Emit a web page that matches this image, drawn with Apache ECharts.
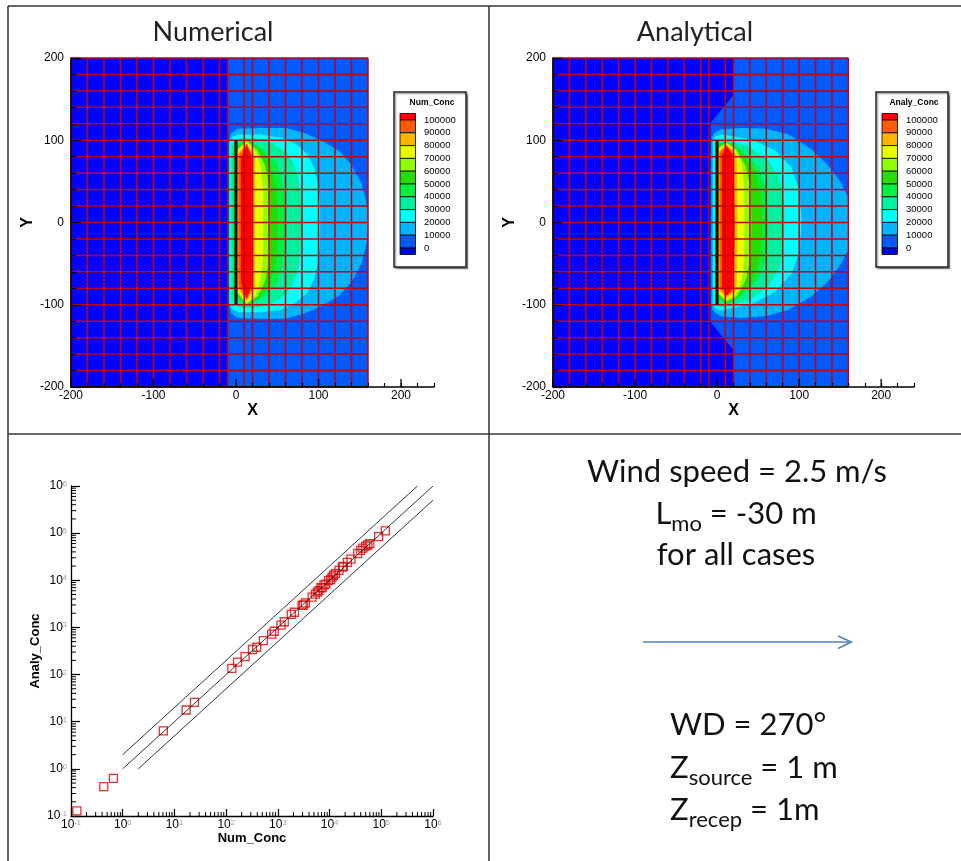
<!DOCTYPE html>
<html>
<head>
<meta charset="utf-8">
<title>Numerical vs Analytical</title>
<script src="https://cdn.jsdelivr.net/npm/echarts@6/dist/echarts.min.js"></script>
<style>
  html, body { margin: 0; padding: 0; background: #fff; }
  #chart { width: 961px; height: 861px; }
</style>
</head>
<body>
<div id="chart"></div>
<script>
// contour levels shown in the legends, and the colour of each band (lowest band first)
const contourLevels = [0, 10000, 20000, 30000, 40000, 50000, 60000, 70000, 80000, 90000, 100000];
const bandColors = ['#0000ff', '#005aff', '#00b4ff', '#00ffff', '#00f0a0', '#00f040', '#28dc00', '#8cff00', '#e6ff00', '#ffb400', '#ff5a00', '#ff0000'];

// computational mesh
const meshX = [-200, -180, -160, -140, -120, -100, -80, -60, -40, -20, -10, 10, 20, 40, 60, 80, 100, 120, 140, 160];
const meshY = [-200, -180, -160, -140, -120, -100, -80, -60, -40, -20, 0, 20, 40, 60, 80, 100, 120, 140, 160, 180, 200];
const domainBox = [[-200, 200], [160, 200], [160, -200], [-200, -200]];
const xMajorTicks = [-200, -100, 0, 100, 200];
const sourceLine = [[0, -100], [0, 100]];

// region where conc > 0
const numWetZone = [[-10, 200], [160, 200], [160, -200], [-10, -200]];
const anaWetZone = [[20, 200], [160, 200], [160, -200], [20, -200], [20, -155], [-8, -121], [-8, 121], [20, 155]];

// contour lines (x, y in m)
const numContours = [
  { level: 10000, pts: [[-8.5,100],[-6,108],[2,114],[30,115],[60,115],[82,109],[105,99],[125,87],[140,70],[152,48],[158,25],[160,10],[160,-12],[158,-27],[152,-50],[140,-72],[125,-89],[105,-101],[82,-111],[60,-117],[30,-117],[2,-116],[-6,-110],[-8.5,-100]] },
  { level: 20000, pts: [[-8,97],[-5,104],[3,107],[30,107],[55,103],[72,96],[86,84],[95,66],[100,44],[102,20],[102,-20],[100,-46],[95,-68],[86,-86],[72,-98],[55,-106],[30,-109],[3,-109],[-5,-105],[-8,-99]] },
  { level: 30000, pts: [[-6,94],[5,102],[25,102],[45,96],[60,86],[70,72],[76,52],[79,28],[80,0],[79,-28],[76,-54],[70,-74],[60,-88],[45,-98],[25,-104],[5,-104],[-6,-96]] },
  { level: 40000, pts: [[-4,92],[13,101],[34,88],[50,72],[56,52],[59,26],[59,-28],[56,-54],[50,-74],[34,-90],[13,-102],[-4,-88]] },
  { level: 50000, pts: [[-2,90],[13,100],[30,88],[43,66],[49,38],[50,0],[49,-40],[43,-68],[30,-90],[13,-100],[-2,-86]] },
  { level: 60000, pts: [[0,88],[13,99],[26,88],[35,70],[40,46],[41,0],[40,-48],[35,-72],[26,-90],[13,-99],[0,-84]] },
  { level: 70000, pts: [[1,86],[13,98],[24,86],[30,68],[33,40],[33,-42],[30,-70],[24,-88],[13,-98],[1,-82]] },
  { level: 80000, pts: [[2,84],[13,97],[23,80],[23,-78],[13,-96],[2,-80]] },
  { level: 90000, pts: [[3,81],[13,96],[21,80],[21,-78],[13,-94],[3,-77]] },
  { level: 100000, pts: [[6,78],[13,94],[19,78],[19,-76],[13,-92],[6,-74]] }
];
const anaContours = [
  { level: 10000, pts: [[-7,100],[-4.5,108],[4,113],[30,115],[60,114],[87,107],[115,89],[135,70],[150,50],[160,30],[160,-33],[150,-52],[135,-72],[115,-90],[87,-106],[60,-114],[30,-116],[4,-114],[-4.5,-108],[-7,-100]] },
  { level: 20000, pts: [[-5,100],[-2,105],[6,107],[42,101],[70,88],[90,68],[100,40],[103,3],[101,-33],[91,-62],[70,-85],[42,-99],[6,-107],[-2,-105],[-5,-100]] },
  { level: 30000, pts: [[-3,98],[6,101],[38,93],[62,76],[77,52],[82,15],[82,-15],[77,-54],[62,-78],[38,-95],[6,-103],[-3,-100]] },
  { level: 40000, pts: [[-1.5,95],[12,99],[30,88],[50,68],[60,40],[62,0],[60,-42],[50,-70],[30,-90],[12,-100],[-1.5,-91]] },
  { level: 50000, pts: [[-0.5,93],[12,98],[28,86],[45,64],[53,36],[55,0],[53,-38],[45,-66],[28,-88],[12,-98],[-0.5,-89]] },
  { level: 60000, pts: [[0.5,91],[12,97],[24,88],[35,68],[41,40],[42,0],[41,-42],[35,-70],[24,-90],[12,-96],[0.5,-87]] },
  { level: 70000, pts: [[1,89],[12,96],[22,88],[30,72],[33,45],[34,0],[33,-47],[30,-72],[22,-88],[12,-94],[1,-85]] },
  { level: 80000, pts: [[2,87],[12,95],[24,82],[25,0],[24,-82],[12,-92],[2,-83]] },
  { level: 90000, pts: [[3,85],[12,94],[20,84],[22,0],[20,-82],[12,-90],[3,-80]] },
  { level: 100000, pts: [[6,82],[12,92],[19,82],[20,0],[19,-80],[12,-88],[6,-78]] }
];

// scatter: numerical vs analytical concentration
const numConc = [0.13, 0.43, 0.66, 6.1, 16.8, 24.4, 129, 166, 232, 323, 390, 525, 760, 850, 1150, 1330, 1820, 2100, 2950, 3100, 3400, 4600, 5300, 5800, 6200, 6800, 7200, 7800, 8400, 9600, 10500, 11200, 12000, 13000, 15200, 17700, 18500, 22000, 26000, 35000, 40000, 44000, 50000, 55000, 60000, 89000, 120000];
const analyConc = [0.128, 0.42, 0.63, 6.4, 17.7, 25.8, 136, 183, 240, 340, 380, 525, 720, 830, 1120, 1320, 1900, 2100, 2950, 3000, 3300, 4400, 5100, 5600, 6000, 6900, 7000, 8000, 8300, 9800, 10400, 11700, 12800, 13800, 16200, 19000, 19800, 24000, 28000, 37000, 43000, 48000, 53000, 56000, 60000, 84000, 112000];
const factorTwoUpper = [[1, 2], [5e5, 1e6]];
const oneToOne = [[1, 1], [1e6, 1e6]];
const factorTwoLower = [[2, 1], [1e6, 5e5]];
const decadeTicks = [0.1, 1, 10, 100, 1e3, 1e4, 1e5, 1e6];
const minorMultipliers = [2, 3, 4, 5, 6, 7, 8, 9];

const FONT = '"Liberation Sans", Arial, sans-serif';
const chart = echarts.init(document.getElementById('chart'));

function fieldSeries(idx, zone, contours) {
  const polys = [{ color: bandColors[0], pts: domainBox }, { color: bandColors[1], pts: zone }]
    .concat(contours.map(c => ({ color: bandColors[c.level / 10000 + 1], pts: c.pts })));
  return {
    type: 'custom', xAxisIndex: idx, yAxisIndex: idx, silent: true, clip: true, z: 1,
    data: polys.map((p, i) => [0, 0, i]),
    renderItem: (params, api) => {
      const p = polys[params.dataIndex];
      return { type: 'polygon', shape: { points: p.pts.map(pt => api.coord(pt)) }, style: { fill: p.color } };
    }
  };
}

function meshSeries(idx) {
  const x0 = meshX[0], x1 = meshX[meshX.length - 1], y0 = meshY[0], y1 = meshY[meshY.length - 1];
  const segs = meshX.map(x => [x, y0, x, y1]).concat(meshY.map(y => [x0, y, x1, y]));
  return {
    type: 'custom', xAxisIndex: idx, yAxisIndex: idx, silent: true, clip: false, z: 2,
    data: segs,
    renderItem: (params, api) => {
      const a = api.coord([api.value(0), api.value(1)]);
      const b = api.coord([api.value(2), api.value(3)]);
      return { type: 'line', shape: { x1: a[0], y1: a[1], x2: b[0], y2: b[1] }, style: { stroke: '#c80000', lineWidth: 1.5 } };
    }
  };
}

function sourceSeries(idx) {
  return {
    type: 'line', xAxisIndex: idx, yAxisIndex: idx, data: sourceLine, symbol: 'none', silent: true, z: 3,
    lineStyle: { color: '#000', width: 3 }
  };
}

function majorTickSeries(idx) {
  return {
    type: 'custom', xAxisIndex: idx, yAxisIndex: idx, silent: true, clip: false, z: 4,
    data: xMajorTicks.map(v => [v, meshY[0]]),
    renderItem: (params, api) => {
      const p = api.coord([api.value(0), api.value(1)]);
      return { type: 'line', shape: { x1: p[0], y1: p[1], x2: p[0], y2: p[1] - 8 }, style: { stroke: '#000', lineWidth: 1.3 } };
    }
  };
}

function fieldXAxis(idx) {
  return {
    gridIndex: idx, type: 'value', min: -200, max: 240, interval: 20, z: 10,
    axisLine: { show: true, onZero: false, lineStyle: { color: '#000', width: 1.5 } },
    axisTick: { show: true, inside: true, length: 4, lineStyle: { color: '#000', width: 1.2 } },
    axisLabel: { interval: 0, margin: 3, color: '#000', fontSize: 12, fontFamily: FONT,
      formatter: v => (xMajorTicks.indexOf(v) >= 0 ? String(v) : '') },
    splitLine: { show: false },
    name: 'X', nameLocation: 'middle', nameGap: 16,
    nameTextStyle: { color: '#000', fontSize: 16, fontWeight: 'bold', fontFamily: FONT }
  };
}

function fieldYAxis(idx) {
  return {
    gridIndex: idx, type: 'value', min: -200, max: 200, interval: 100, z: 10,
    axisLine: { show: true, onZero: false, lineStyle: { color: '#000', width: 1.5 } },
    axisTick: { show: true, inside: true, length: 10, lineStyle: { color: '#000', width: 1.3 } },
    minorTick: { show: true, splitNumber: 5, length: 5, lineStyle: { color: '#000', width: 1.2 } },
    axisLabel: { margin: 7, color: '#000', fontSize: 12, fontFamily: FONT },
    splitLine: { show: false }, minorSplitLine: { show: false },
    name: 'Y', nameLocation: 'middle', nameGap: 29,
    nameTextStyle: { color: '#000', fontSize: 16, fontWeight: 'bold', fontFamily: FONT }
  };
}

const logRich = {
  b: { fontSize: 12, fontFamily: FONT, color: '#000', verticalAlign: 'middle' },
  s: { fontSize: 7.5, fontFamily: FONT, color: '#999', verticalAlign: 'top' }
};
function logAxis(name, isY) {
  return {
    gridIndex: 2, type: 'log', logBase: 10, min: 0.1, max: 1e6, splitNumber: 7, z: 10,
    axisLine: { show: true, onZero: false, lineStyle: { color: '#000', width: 1.3 } },
    axisTick: { show: true, inside: true, length: isY ? 9 : 7, lineStyle: { color: '#000', width: 1.2 } },
    axisLabel: { margin: isY ? 4 : 3, rich: logRich,
      formatter: v => '{b|10}{s|' + Math.round(Math.log10(v)) + '}' },
    splitLine: { show: false },
    name: name, nameLocation: 'middle', nameGap: isY ? 29 : 15,
    nameTextStyle: { color: '#000', fontSize: 13, fontWeight: 'bold', fontFamily: FONT }
  };
}

const minorLogData = [];
decadeTicks.slice(0, -1).forEach(d => {
  minorMultipliers.forEach(m => {
    minorLogData.push([d * m, decadeTicks[0], 0]);
    minorLogData.push([decadeTicks[0], d * m, 1]);
  });
});

function factorLine(data) {
  return { type: 'line', xAxisIndex: 2, yAxisIndex: 2, data: data, symbol: 'none', silent: true, z: 3,
    lineStyle: { color: '#000', width: 0.8 } };
}

function legendGraphic(bx, by, title) {
  const items = [];
  items.push({ type: 'rect', shape: { x: bx, y: by, width: 72, height: 175 },
    style: { fill: '#fff', stroke: '#222', lineWidth: 1.5, shadowColor: 'rgba(0,0,0,0.35)', shadowOffsetX: 1.5, shadowOffsetY: 1.5, shadowBlur: 1 } });
  items.push({ type: 'text', x: bx + 38, y: by + 11,
    style: { text: title, font: 'bold 8.5px ' + FONT, fill: '#000', align: 'center', verticalAlign: 'middle', textAlign: 'center', textVerticalAlign: 'middle' } });
  const top = by + 21.5, step = 12.8, cap = 6.5;
  const n = bandColors.length;
  for (let k = n - 1; k >= 0; k--) {
    let y, h;
    if (k === n - 1) { y = top; h = cap; }
    else if (k === 0) { y = top + cap + (n - 2) * step; h = cap; }
    else { y = top + cap + (n - 2 - k) * step; h = step; }
    items.push({ type: 'rect', shape: { x: bx + 6, y: y, width: 15.5, height: h },
      style: { fill: bandColors[k], stroke: '#000', lineWidth: 0.8 } });
  }
  contourLevels.forEach((lv, j) => {
    items.push({ type: 'text', x: bx + 30, y: top + cap + (contourLevels.length - 1 - j) * step,
      style: { text: String(lv), font: '9.5px ' + FONT, fill: '#000', align: 'left', verticalAlign: 'middle', textAlign: 'left', textVerticalAlign: 'middle' } });
  });
  return items;
}

// text block on the right: pieces laid out along a baseline, subscripts dropped
const measureCtx = document.createElement('canvas').getContext('2d');
function textWidth(text, font) { measureCtx.font = font; return measureCtx.measureText(text).width; }
function infoLine(parts, x, baseline, align) {
  const mainSize = 31, subSize = 22;
  const fonts = parts.map(p => (p[1] ? subSize : mainSize) + 'px Lato');
  const widths = parts.map((p, i) => textWidth(p[0], fonts[i]));
  const total = widths.reduce((a, b) => a + b, 0);
  let cx = align === 'center' ? x - total / 2 : x;
  return parts.map((p, i) => {
    const size = p[1] ? subSize : mainSize;
    const el = { type: 'text', x: cx, y: (p[1] ? baseline + 6.5 : baseline) - 0.38 * size,
      style: { text: p[0], font: fonts[i], fill: '#111', align: 'left', verticalAlign: 'middle', textAlign: 'left', textVerticalAlign: 'middle' } };
    cx += widths[i];
    return el;
  });
}
function borderLine(x1, y1, x2, y2) {
  return { type: 'line', shape: { x1, y1, x2, y2 }, style: { stroke: '#333', lineWidth: 1.5 } };
}
function titleText(x, text) {
  return { type: 'text', x: x, y: 32,
    style: { text: text, font: '27px Lato', fill: '#222', align: 'center', verticalAlign: 'middle', textAlign: 'center', textVerticalAlign: 'middle' } };
}

const graphics = [
  borderLine(8, 6, 961, 6), borderLine(8, 6, 8, 861), borderLine(489, 6, 489, 861), borderLine(8, 434, 961, 434),
  titleText(213, 'Numerical'), titleText(695, 'Analytical'),
  { type: 'line', shape: { x1: 643, y1: 642, x2: 851, y2: 642 }, style: { stroke: '#4f81bd', lineWidth: 1.5 } },
  { type: 'polyline', shape: { points: [[838, 636], [851.5, 642], [838, 648.5]] }, style: { stroke: '#4f81bd', lineWidth: 1.5, fill: null } }
].concat(
  infoLine([['Wind speed = 2.5 m/s', false]], 737, 483.5, 'center'),
  infoLine([['L', false], ['mo', true], [' = -30 m', false]], 736, 526, 'center'),
  infoLine([['for all cases', false]], 736, 567, 'center'),
  infoLine([['WD = 270°', false]], 670, 737, 'left'),
  infoLine([['Z', false], ['source', true], [' = 1 m', false]], 670, 780, 'left'),
  infoLine([['Z', false], ['recep', true], [' = 1m', false]], 670, 822, 'left'),
  legendGraphic(394, 92, 'Num_Conc'), legendGraphic(876, 92, 'Analy_Conc')
);

chart.setOption({
  backgroundColor: '#fff',
  animation: false,
  grid: [
    { left: 71, top: 58, width: 363, height: 329, outerBoundsMode: 'none' },
    { left: 553, top: 58, width: 361, height: 329, outerBoundsMode: 'none' },
    { left: 71, top: 486, width: 362, height: 330, outerBoundsMode: 'none' }
  ],
  xAxis: [fieldXAxis(0), fieldXAxis(1), logAxis('Num_Conc', false)],
  yAxis: [fieldYAxis(0), fieldYAxis(1), logAxis('Analy_Conc', true)],
  series: [
    fieldSeries(0, numWetZone, numContours), meshSeries(0), sourceSeries(0), majorTickSeries(0),
    fieldSeries(1, anaWetZone, anaContours), meshSeries(1), sourceSeries(1), majorTickSeries(1),
    {
      type: 'scatter', xAxisIndex: 2, yAxisIndex: 2, clip: false, z: 2, silent: true,
      symbol: 'rect', symbolSize: 8,
      itemStyle: { color: 'rgba(0,0,0,0)', borderColor: '#e00000', borderWidth: 1.3 },
      data: numConc.map((v, i) => [v, analyConc[i]])
    },
    factorLine(factorTwoUpper), factorLine(oneToOne), factorLine(factorTwoLower),
    {
      type: 'custom', xAxisIndex: 2, yAxisIndex: 2, silent: true, clip: false, z: 4,
      data: minorLogData,
      renderItem: (params, api) => {
        const p = api.coord([api.value(0), api.value(1)]);
        const vertical = api.value(2) === 0;
        return { type: 'line',
          shape: vertical ? { x1: p[0], y1: p[1], x2: p[0], y2: p[1] - 4 } : { x1: p[0], y1: p[1], x2: p[0] + 5, y2: p[1] },
          style: { stroke: '#000', lineWidth: 1 } };
      }
    }
  ],
  graphic: graphics
});
</script>
</body>
</html>
